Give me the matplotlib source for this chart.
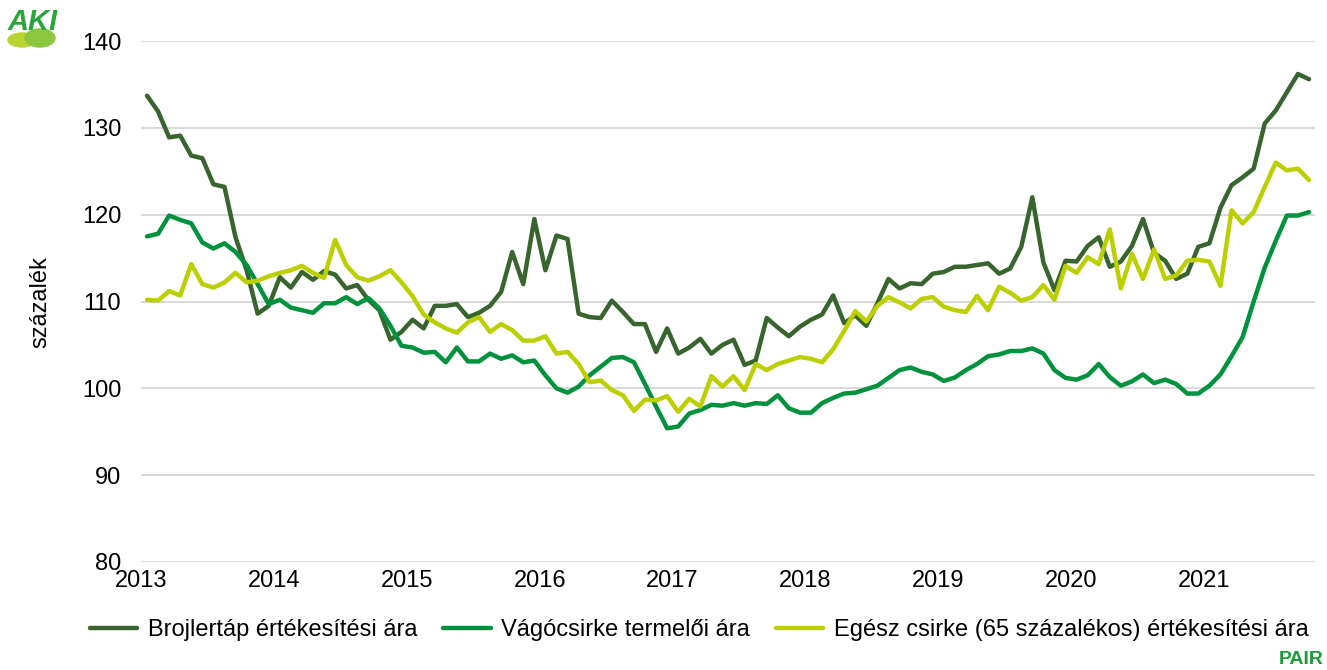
import matplotlib
matplotlib.use("Agg")
import matplotlib.pyplot as plt
import numpy as np
from matplotlib.patches import Ellipse

plt.rcParams['font.family'] = ['Liberation Sans', 'DejaVu Sans']

# monthly index values, 2013 jan - 2021 okt
years = ["2013", "2014", "2015", "2016", "2017", "2018", "2019", "2020", "2021"]

brojlertap = [133.7, 131.9, 128.9, 129.1, 126.8, 126.5, 123.5, 123.2, 117.4, 113.6, 108.6, 109.5,
              112.8, 111.6, 113.4, 112.5, 113.5, 113.1, 111.5, 111.9, 110.2, 109.0, 105.6, 106.5,
              107.9, 106.9, 109.5, 109.5, 109.7, 108.2, 108.7, 109.5, 111.1, 115.7, 112.0, 119.5,
              113.6, 117.6, 117.2, 108.6, 108.2, 108.1, 110.1, 108.8, 107.4, 107.4, 104.2, 106.9,
              104.0, 104.7, 105.7, 104.0, 105.0, 105.6, 102.7, 103.2, 108.1, 107.0, 106.0, 107.1,
              107.9, 108.5, 110.7, 107.5, 108.4, 107.2, 109.8, 112.6, 111.5, 112.1, 112.0, 113.2,
              113.4, 114.0, 114.0, 114.2, 114.4, 113.2, 113.8, 116.3, 122.0, 114.5, 111.3, 114.7,
              114.6, 116.4, 117.4, 114.0, 114.6, 116.4, 119.5, 115.6, 114.7, 112.6, 113.2, 116.3,
              116.7, 120.8, 123.4, 124.3, 125.3, 130.5, 132.0, 134.1, 136.2, 135.6]

vagocsirke = [117.5, 117.8, 119.9, 119.4, 119.0, 116.8, 116.1, 116.7, 115.7, 114.2, 112.0, 109.7,
              110.2, 109.3, 109.0, 108.7, 109.8, 109.8, 110.5, 109.7, 110.4, 109.2, 107.2, 104.9,
              104.7, 104.1, 104.2, 103.0, 104.7, 103.1, 103.1, 104.0, 103.4, 103.8, 103.0, 103.2,
              101.5, 100.0, 99.5, 100.2, 101.5, 102.5, 103.5, 103.6, 103.0, 100.5, 97.9, 95.4,
              95.6, 97.1, 97.5, 98.1, 98.0, 98.3, 98.0, 98.3, 98.2, 99.2, 97.7, 97.2,
              97.2, 98.3, 98.9, 99.4, 99.5, 99.9, 100.3, 101.2, 102.1, 102.4, 101.9, 101.6,
              100.85, 101.25, 102.1, 102.8, 103.7, 103.9, 104.3, 104.3, 104.6, 104.0, 102.1, 101.2,
              101.0, 101.5, 102.8, 101.3, 100.3, 100.8, 101.6, 100.6, 101.0, 100.5, 99.4, 99.4,
              100.3, 101.6, 103.7, 105.9, 110.0, 113.9, 117.0, 119.9, 119.9, 120.3]

egesz_csirke = [110.2, 110.1, 111.2, 110.7, 114.3, 112.0, 111.6, 112.2, 113.3, 112.2, 112.4, 112.9,
                113.3, 113.6, 114.1, 113.3, 112.7, 117.1, 114.2, 112.8, 112.4, 112.9, 113.6, 112.2,
                110.6, 108.5, 107.6, 106.9, 106.4, 107.6, 108.2, 106.5, 107.4, 106.7, 105.5, 105.5,
                106.0, 104.0, 104.2, 102.8, 100.7, 100.9, 99.8, 99.2, 97.4, 98.7, 98.6, 99.1,
                97.3, 98.8, 97.9, 101.4, 100.2, 101.4, 99.8, 102.8, 102.1, 102.8, 103.2, 103.6,
                103.4, 103.0, 104.5, 106.6, 108.9, 107.7, 109.5, 110.5, 109.9, 109.2, 110.3, 110.5,
                109.4, 109.0, 108.8, 110.65, 109.0, 111.7, 111.0, 110.1, 110.5, 111.9, 110.2, 114.1,
                113.3, 115.1, 114.3, 118.3, 111.5, 115.5, 112.6, 116.0, 112.6, 113.0, 114.7, 114.8,
                114.6, 111.8, 120.5, 119.0, 120.3, 123.2, 126.0, 125.1, 125.3, 124.0]

labels = ["Brojlertáp értékesítési ára",
          "Vágócsirke termelői ára",
          "Egész csirke (65 százalékos) értékesítési ára"]
colors = ["#37652d", "#00923c", "#bccf00"]

x = np.arange(len(brojlertap))

fig = plt.figure(figsize=(13.27, 6.70), dpi=100)
ax = fig.add_axes([0.1066, 0.1612, 0.8840, 0.7776])

for y, lab, c in zip([brojlertap, vagocsirke, egesz_csirke], labels, colors):
    ax.plot(x, y, color=c, linewidth=3.2, label=lab, solid_joinstyle='round', solid_capstyle='round')

ax.set_xlim(-0.5, len(x) - 0.5)
ax.set_ylim(80, 140)
ax.set_yticks(np.arange(80, 141, 10))
ax.set_xticks(np.arange(len(years)) * 12 - 0.5)
ax.set_xticklabels(years)
ax.grid(axis='y', color='#d9d9d9', linewidth=1.4)
ax.set_axisbelow(True)
for s in ax.spines.values():
    s.set_visible(False)
ax.tick_params(axis='both', length=0, labelsize=17, colors='black')
ax.tick_params(axis='y', pad=14.5)
ax.tick_params(axis='x', pad=6)

fig.text(40 / 1327, 1 - 302 / 670, "százalék", rotation=90, fontsize=17,
         ha='center', va='center')

leg = fig.legend(loc='center', bbox_to_anchor=(0.527, 0.06), ncol=3, frameon=False,
                 fontsize=17, handlelength=2.0, handletextpad=0.45, columnspacing=1.1)

# logos
fig.patches.append(Ellipse((22 / 1327, 1 - 40 / 670), 28 / 1327, 14 / 670,
                           transform=fig.transFigure, color='#b8d432', zorder=1))
fig.patches.append(Ellipse((40 / 1327, 1 - 38 / 670), 30 / 1327, 18 / 670,
                           transform=fig.transFigure, color='#8dc63f', zorder=1))
fig.text(8 / 1327, 1 - 22 / 670, "AKI", color='#2aa53a', fontsize=21, fontweight='bold',
         fontstyle='italic', ha='left', va='center', zorder=3)
fig.text(1324 / 1327, 1 - 659 / 670, "PAIR", color='#1e9b3a', fontsize=14,
         fontweight='bold', ha='right', va='center')

fig.savefig("out.png", dpi=100)
